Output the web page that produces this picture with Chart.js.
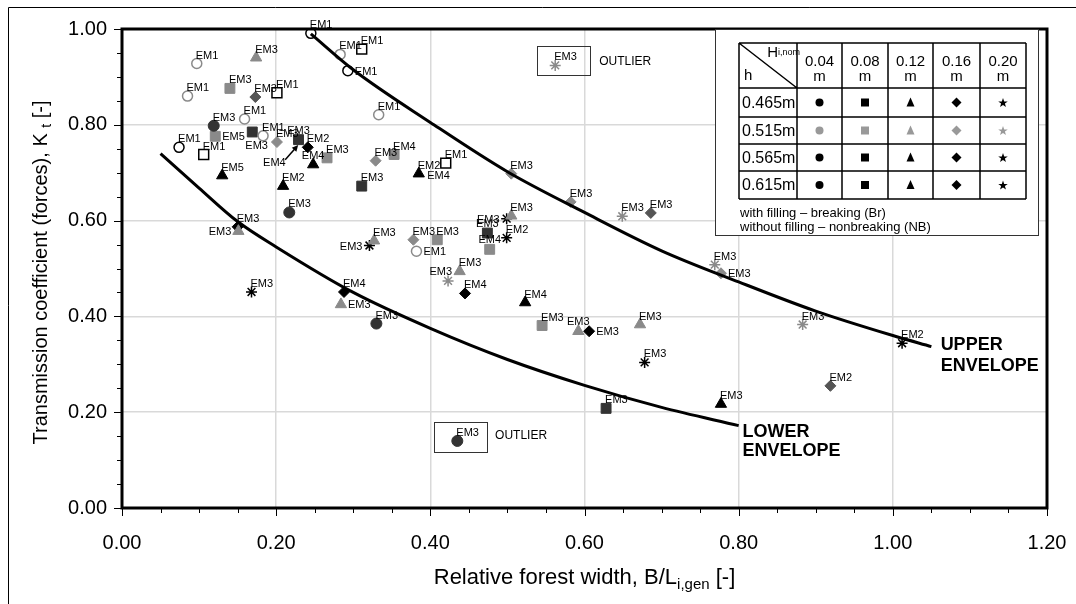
<!DOCTYPE html>
<html>
<head>
<meta charset="utf-8">
<script src="https://cdn.jsdelivr.net/npm/chart.js@4.4.1/dist/chart.umd.min.js"></script>
<style>
  html, body { margin: 0; padding: 0; background: #fff; }
  #wrap { width: 1076px; height: 604px; }
</style>
</head>
<body>
<div id="wrap"><canvas id="chartKt" width="1076" height="604"></canvas></div>
<script>
const FONT = 'Arial, "Liberation Sans", sans-serif';

// ---------- axes ----------
const xMajor = [0, 0.2, 0.4, 0.6, 0.8, 1.0, 1.2];
const xTickLabels = ['0.00', '0.20', '0.40', '0.60', '0.80', '1.00', '1.20'];
const yMajor = [0, 0.2, 0.4, 0.6, 0.8, 1.0];
const yTickLabels = ['0.00', '0.20', '0.40', '0.60', '0.80', '1.00'];

// ---------- envelopes ----------
const upperX = [0.245, 0.30, 0.40, 0.50, 0.60, 0.70, 0.80, 0.90, 1.00, 1.05];
const upperY = [0.990, 0.915, 0.805, 0.702, 0.617, 0.537, 0.472, 0.411, 0.360, 0.337];
const lowerX = [0.05, 0.10, 0.15, 0.20, 0.30, 0.40, 0.50, 0.60, 0.70, 0.80];
const lowerY = [0.740, 0.668, 0.598, 0.545, 0.450, 0.375, 0.310, 0.256, 0.210, 0.172];

// ---------- measurements (x = B/L, y = Kt) ----------
// open circles, black (NB)
const ocBlackX = [0.245, 0.293, 0.074];
const ocBlackY = [0.991, 0.913, 0.753];
const ocBlackTag = ['EM1', 'EM1', 'EM1'];
// open circles, grey (NB)
const ocGreyX = [0.283, 0.097, 0.085, 0.333, 0.159, 0.183, 0.382];
const ocGreyY = [0.947, 0.928, 0.860, 0.821, 0.812, 0.777, 0.536];
const ocGreyTag = ['EM1', 'EM1', 'EM1', 'EM1', 'EM1', 'EM1', 'EM1'];
// open squares (NB)
const osBlackX = [0.311, 0.201, 0.106, 0.420];
const osBlackY = [0.958, 0.867, 0.738, 0.720];
const osBlackTag = ['EM1', 'EM1', 'EM1', 'EM1'];
// circles, dark
const cDarkX = [0.119, 0.217, 0.330, 0.435];
const cDarkY = [0.798, 0.617, 0.385, 0.140];
const cDarkTag = ['EM3', 'EM3', 'EM3', 'EM3'];
// squares, grey
const sGreyX = [0.140, 0.121, 0.266, 0.353, 0.409, 0.477, 0.545];
const sGreyY = [0.876, 0.776, 0.731, 0.738, 0.560, 0.540, 0.381];
const sGreyTag = ['EM3', 'EM5', 'EM3', 'EM4', 'EM3', 'EM4', 'EM3'];
// squares, dark
const sDarkX = [0.169, 0.229, 0.311, 0.474, 0.628];
const sDarkY = [0.785, 0.769, 0.672, 0.574, 0.208];
const sDarkTag = ['', 'EM3', 'EM3', 'EM3', 'EM3'];
// triangles, black
const tBlackX = [0.130, 0.209, 0.248, 0.385, 0.523, 0.777];
const tBlackY = [0.694, 0.672, 0.717, 0.698, 0.429, 0.217];
const tBlackTag = ['EM5', 'EM2', 'EM4', 'EM2', 'EM4', 'EM3'];
// triangles, grey
const tGreyX = [0.174, 0.505, 0.438, 0.592, 0.672, 0.151, 0.327, 0.284];
const tGreyY = [0.940, 0.610, 0.494, 0.369, 0.383, 0.578, 0.558, 0.425];
const tGreyTag = ['EM3', 'EM3', 'EM3', 'EM3', 'EM3', 'EM3', 'EM3', 'EM3'];
// diamonds, black
const dBlackX = [0.241, 0.445, 0.606, 0.150, 0.288];
const dBlackY = [0.753, 0.448, 0.369, 0.587, 0.451];
const dBlackTag = ['EM2', 'EM4', 'EM3', 'EM3', 'EM4'];
// diamonds, dark grey
const dDarkX = [0.173, 0.686, 0.919];
const dDarkY = [0.858, 0.616, 0.255];
const dDarkTag = ['EM3', 'EM3', 'EM2'];
// diamonds, grey
const dGreyX = [0.201, 0.329, 0.505, 0.582, 0.378, 0.777];
const dGreyY = [0.764, 0.725, 0.698, 0.639, 0.560, 0.490];
const dGreyTag = ['EM3', 'EM3', 'EM3', 'EM3', 'EM3', 'EM3'];
// stars, black
const xBlackX = [0.499, 0.499, 0.321, 0.168, 0.678, 1.012];
const xBlackY = [0.604, 0.564, 0.548, 0.451, 0.304, 0.344];
const xBlackTag = ['EM3', 'EM2', 'EM3', 'EM3', 'EM3', 'EM2'];
// stars, grey
const xGreyX = [0.562, 0.649, 0.423, 0.769, 0.883];
const xGreyY = [0.924, 0.609, 0.474, 0.508, 0.383];
const xGreyTag = ['EM3', 'EM3', 'EM3', 'EM3', 'EM3'];

// loose tags (second labels, arrow label)
const extraTagX = [0.396, 0.160, 0.183];
const extraTagY = [0.694, 0.756, 0.721];
const extraTag = ['EM4', 'EM3', 'EM4'];
const arrowFrom = [0.2117, 0.727];
const arrowTo = [0.2286, 0.758];

// outliers: [x0, x1, y0, y1] and note position
const outlierBoxes = [[0.539, 0.608, 0.904, 0.964], [0.405, 0.474, 0.118, 0.180]];
const outlierTextX = [0.619, 0.484];
const outlierTextY = [0.932, 0.151];

// legend table
const legendWaves = ['0.04', '0.08', '0.12', '0.16', '0.20'];
const legendDepths = ['0.465m', '0.515m', '0.565m', '0.615m'];
const legendNotes = ['with filling \u2013 breaking (Br)', 'without filling \u2013 nonbreaking (NB)'];

const GREY = '#8a8a8a', DARK = '#333', DGREY = '#555', BLACK = '#000';

const SERIES = [
    { x: ocBlackX, y: ocBlackY, tag: ocBlackTag, side: ['ur', 'r', 'ur'], shape: 'circle', r: 5, fill: '#fff', line: BLACK, bw: 1.5 },
    { x: ocGreyX, y: ocGreyY, tag: ocGreyTag, side: ['ur', 'ur', 'ur', 'ur', 'ur', 'ur', 'r'], shape: 'circle', r: 5, fill: '#fff', line: GREY, bw: 1.5 },
    { x: osBlackX, y: osBlackY, tag: osBlackTag, side: ['ur', 'ur', 'ur', 'ur'], shape: 'rect', r: 7, fill: '#fff', line: BLACK, bw: 1.5 },
    { x: cDarkX, y: cDarkY, tag: cDarkTag, side: ['ur', 'ur', 'ur', 'ur'], shape: 'circle', r: 5.5, fill: DARK, line: DARK, bw: 1 },
    { x: sGreyX, y: sGreyY, tag: sGreyTag, side: ['ur', 'r', 'ur', 'ur', 'ur', 'a', 'ur'], shape: 'rect', r: 7, fill: GREY, line: GREY, bw: 1 },
    { x: sDarkX, y: sDarkY, tag: sDarkTag, side: ['ur', 'a', 'ur', 'a', 'ur'], shape: 'rect', r: 7, fill: DARK, line: DARK, bw: 1 },
    { x: tBlackX, y: tBlackY, tag: tBlackTag, side: ['ur', 'ur', 'a', 'ur', 'ur', 'ur'], shape: 'triangle', r: 6.5, fill: BLACK, line: BLACK, bw: 1 },
    { x: tGreyX, y: tGreyY, tag: tGreyTag, side: ['ur', 'ur', 'ur', 'a', 'ur', 'l', 'ur', 'r'], shape: 'triangle', r: 6.5, fill: GREY, line: GREY, bw: 1 },
    { x: dBlackX, y: dBlackY, tag: dBlackTag, side: ['ur', 'ur', 'r', 'ur', 'ur'], shape: 'rectRot', r: 5.5, fill: BLACK, line: BLACK, bw: 1 },
    { x: dDarkX, y: dDarkY, tag: dDarkTag, side: ['ur', 'ur', 'ur'], shape: 'rectRot', r: 5.5, fill: DGREY, line: DGREY, bw: 1 },
    { x: dGreyX, y: dGreyY, tag: dGreyTag, side: ['ur', 'ur', 'ur', 'ur', 'ur', 'r'], shape: 'rectRot', r: 5.5, fill: GREY, line: GREY, bw: 1 },
    { x: xBlackX, y: xBlackY, tag: xBlackTag, side: ['l', 'ur', 'l', 'ur', 'ur', 'ur'], shape: 'star', r: 5.5, fill: BLACK, line: BLACK, bw: 1.5 },
    { x: xGreyX, y: xGreyY, tag: xGreyTag, side: ['ur', 'ur', 'ul', 'ur', 'ur'], shape: 'star', r: 5.5, fill: GREY, line: GREY, bw: 1.5 },
];

const SIDE = {
    ur: { align: 'left', dx: -1, dy: -8 },
    r: { align: 'left', dx: 7, dy: 1 },
    l: { align: 'right', dx: -7, dy: 1 },
    a: { align: 'center', dx: 0, dy: -9 },
    ul: { align: 'right', dx: 4, dy: -9 },
};

function pairs(xs, ys) { return xs.map((v, i) => ({ x: v, y: ys[i] })); }
function labelFor(v, majors, labels) {
    const i = majors.findIndex(m => Math.abs(m - v) < 1e-6);
    return i >= 0 ? labels[i] : '';
}
function noPad(s) { s.paddingLeft = 0; s.paddingRight = 0; s.paddingTop = 0; s.paddingBottom = 0; }

// text with subscript parts: [[text, isSub], ...]
function richText(ctx, parts, cx, cy, size) {
    const big = size + 'px ' + FONT, small = Math.round(size * 0.68) + 'px ' + FONT;
    let w = 0;
    parts.forEach(p => { ctx.font = p[1] ? small : big; w += ctx.measureText(p[0]).width; });
    let x = cx - w / 2;
    ctx.textAlign = 'left'; ctx.textBaseline = 'middle';
    parts.forEach(p => {
        ctx.font = p[1] ? small : big;
        ctx.fillText(p[0], x, cy + (p[1] ? size * 0.3 : 0));
        x += ctx.measureText(p[0]).width;
    });
}

function symbol(ctx, kind, x, y, color) {
    ctx.fillStyle = color;
    ctx.beginPath();
    if (kind === 0) { ctx.arc(x, y, 4, 0, Math.PI * 2); }
    else if (kind === 1) { ctx.rect(x - 4, y - 4, 8, 8); }
    else if (kind === 2) { ctx.moveTo(x, y - 5); ctx.lineTo(x + 4, y + 4); ctx.lineTo(x - 4, y + 4); ctx.closePath(); }
    else if (kind === 3) { ctx.moveTo(x, y - 5); ctx.lineTo(x + 5, y); ctx.lineTo(x, y + 5); ctx.lineTo(x - 5, y); ctx.closePath(); }
    else {
        for (let k = 0; k < 10; k++) {
            const a = -Math.PI / 2 + k * Math.PI / 5, rr = k % 2 ? 2 : 5;
            const px = x + Math.cos(a) * rr, py = y + 0.5 + Math.sin(a) * rr;
            k ? ctx.lineTo(px, py) : ctx.moveTo(px, py);
        }
        ctx.closePath();
    }
    ctx.fill();
}

// ---------- overlay plugin ----------
const overlay = {
    id: 'overlay',
    afterDatasetsDraw(chart) {
        const ctx = chart.ctx, xs = chart.scales.x, ys = chart.scales.y;
        ctx.save();
        ctx.fillStyle = '#000';
        ctx.font = '11px ' + FONT;
        ctx.textBaseline = 'middle';
        SERIES.forEach((s, i) => {
            chart.getDatasetMeta(i + 2).data.forEach((pt, j) => {
                if (!s.tag[j]) return;
                const o = SIDE[s.side[j]] || SIDE.ur;
                ctx.textAlign = o.align;
                ctx.fillText(s.tag[j], pt.x + o.dx, pt.y + o.dy);
            });
        });
        ctx.textAlign = 'left';
        extraTag.forEach((t, i) => ctx.fillText(t, xs.getPixelForValue(extraTagX[i]), ys.getPixelForValue(extraTagY[i])));

        // arrow
        const ax0 = xs.getPixelForValue(arrowFrom[0]), ay0 = ys.getPixelForValue(arrowFrom[1]);
        const ax1 = xs.getPixelForValue(arrowTo[0]), ay1 = ys.getPixelForValue(arrowTo[1]);
        const ang = Math.atan2(ay1 - ay0, ax1 - ax0);
        ctx.strokeStyle = '#000'; ctx.lineWidth = 1.5;
        ctx.beginPath(); ctx.moveTo(ax0, ay0); ctx.lineTo(ax1 - Math.cos(ang) * 4, ay1 - Math.sin(ang) * 4); ctx.stroke();
        ctx.beginPath();
        ctx.moveTo(ax1, ay1);
        ctx.lineTo(ax1 - Math.cos(ang - 0.45) * 7, ay1 - Math.sin(ang - 0.45) * 7);
        ctx.lineTo(ax1 - Math.cos(ang + 0.45) * 7, ay1 - Math.sin(ang + 0.45) * 7);
        ctx.closePath(); ctx.fill();

        // outliers
        ctx.lineWidth = 1; ctx.strokeStyle = '#333';
        outlierBoxes.forEach((b, i) => {
            const l = xs.getPixelForValue(b[0]), r = xs.getPixelForValue(b[1]);
            const t = ys.getPixelForValue(b[3]), btm = ys.getPixelForValue(b[2]);
            ctx.strokeRect(Math.round(l) + 0.5, Math.round(t) + 0.5, Math.round(r - l), Math.round(btm - t));
            ctx.font = '12px ' + FONT;
            ctx.fillText('OUTLIER', xs.getPixelForValue(outlierTextX[i]), ys.getPixelForValue(outlierTextY[i]));
        });

        // envelope names
        ctx.font = 'bold 18px ' + FONT;
        ctx.fillText('UPPER', xs.getPixelForValue(1.062), ys.getPixelForValue(0.340));
        ctx.fillText('ENVELOPE', xs.getPixelForValue(1.062), ys.getPixelForValue(0.296));
        ctx.fillText('LOWER', xs.getPixelForValue(0.805), ys.getPixelForValue(0.158));
        ctx.fillText('ENVELOPE', xs.getPixelForValue(0.805), ys.getPixelForValue(0.119));
        ctx.restore();
    },
    afterDraw(chart) {
        const ctx = chart.ctx, a = chart.chartArea, xs = chart.scales.x, ys = chart.scales.y;
        ctx.save();
        // tick marks
        ctx.strokeStyle = '#000'; ctx.lineWidth = 1;
        ctx.beginPath();
        for (let i = 0; i <= 24; i++) {
            const px = Math.round(xs.getPixelForValue(i * 0.05)) + 0.5;
            ctx.moveTo(px, a.bottom); ctx.lineTo(px, a.bottom + (i % 4 === 0 ? 8 : 5));
        }
        for (let i = 0; i <= 20; i++) {
            const py = Math.round(ys.getPixelForValue(i * 0.05)) + 0.5;
            ctx.moveTo(a.left, py); ctx.lineTo(a.left - (i % 4 === 0 ? 8 : 5), py);
        }
        ctx.stroke();
        // plot frame
        ctx.lineWidth = 3;
        ctx.strokeRect(a.left, a.top, a.right - a.left, a.bottom - a.top);
        // figure frame (top + left visible)
        ctx.lineWidth = 1;
        ctx.beginPath(); ctx.moveTo(8.5, 604); ctx.lineTo(8.5, 7.5); ctx.lineTo(1076, 7.5); ctx.stroke();

        // axis titles
        ctx.fillStyle = '#000';
        richText(ctx, [['Relative forest width, B/L', false], ['i,gen', true], [' [-]', false]], (a.left + a.right) / 2, 578, 22);
        ctx.save();
        ctx.translate(41, (a.top + a.bottom) / 2 + 4);
        ctx.rotate(-Math.PI / 2);
        richText(ctx, [['Transmission coefficient (forces), K ', false], ['t', true], [' [-]', false]], 0, 0, 20);
        ctx.restore();

        // ---------- legend table ----------
        const bx = 715, by = a.top, bw = 323, bh = 235 - a.top;
        ctx.fillStyle = '#fff'; ctx.fillRect(bx, by, bw, bh);
        ctx.strokeStyle = '#333'; ctx.lineWidth = 1;
        ctx.strokeRect(bx + 0.5, by + 0.5, bw, bh);
        const cols = [739, 797, 842, 888, 933, 980, 1026];
        const rows = [43, 88, 117, 144, 171, 199];
        ctx.strokeStyle = '#000'; ctx.lineWidth = 1.5;
        ctx.beginPath();
        cols.forEach(c => { ctx.moveTo(c, rows[0]); ctx.lineTo(c, rows[rows.length - 1]); });
        rows.forEach(r => { ctx.moveTo(cols[0], r); ctx.lineTo(cols[cols.length - 1], r); });
        ctx.moveTo(cols[0], rows[0]); ctx.lineTo(cols[1], rows[1]);
        ctx.stroke();
        ctx.fillStyle = '#000';
        ctx.textBaseline = 'alphabetic';
        ctx.textAlign = 'right';
        ctx.font = '15px ' + FONT; ctx.fillText('H', 778, 57);
        ctx.font = '9px ' + FONT; ctx.textAlign = 'left'; ctx.fillText('i,nom', 778, 55);
        ctx.font = '15px ' + FONT; ctx.fillText('h', 744, 80);
        ctx.textAlign = 'center';
        legendWaves.forEach((w, i) => {
            const cx = (cols[i + 1] + cols[i + 2]) / 2;
            ctx.font = '15px ' + FONT;
            ctx.fillText(w, cx, 66);
            ctx.fillText('m', cx, 81);
        });
        legendDepths.forEach((d, r) => {
            const cy = (rows[r + 1] + rows[r + 2]) / 2;
            ctx.font = '16px ' + FONT; ctx.textAlign = 'left'; ctx.textBaseline = 'middle';
            ctx.fillText(d, cols[0] + 3, cy + 1);
            for (let k = 0; k < 5; k++) {
                symbol(ctx, k, (cols[k + 1] + cols[k + 2]) / 2, cy, r === 1 ? '#999' : '#000');
            }
            ctx.fillStyle = '#000';
        });
        ctx.font = '13px ' + FONT; ctx.textAlign = 'left'; ctx.textBaseline = 'middle';
        legendNotes.forEach((t, i) => ctx.fillText(t, 740, 213 + i * 14));
        ctx.restore();
    }
};

// ---------- chart ----------
const datasets = [
    { data: pairs(upperX, upperY), showLine: true, borderColor: '#000', borderWidth: 3, pointRadius: 0, cubicInterpolationMode: 'monotone', fill: false },
    { data: pairs(lowerX, lowerY), showLine: true, borderColor: '#000', borderWidth: 3, pointRadius: 0, cubicInterpolationMode: 'monotone', fill: false },
].concat(SERIES.map(s => ({
    data: pairs(s.x, s.y),
    showLine: false,
    pointStyle: s.shape,
    pointRadius: s.r, pointHoverRadius: s.r,
    pointBackgroundColor: s.fill, pointBorderColor: s.line, pointBorderWidth: s.bw,
})));

const tickFont = { family: FONT, size: 20 };
new Chart(document.getElementById('chartKt'), {
    type: 'scatter',
    data: { datasets },
    options: {
        responsive: false, animation: false, events: [],
        layout: { padding: { top: 29, right: 29, left: 0, bottom: 0 } },
        plugins: { legend: { display: false }, tooltip: { enabled: false } },
        scales: {
            x: {
                min: 0, max: 1.2,
                afterFit: s => { s.height = 96; noPad(s); },
                ticks: { stepSize: 0.05, autoSkip: false, maxRotation: 0, padding: 23, color: '#000', font: tickFont,
                    callback: v => labelFor(v, xMajor, xTickLabels) },
                grid: { drawTicks: false, lineWidth: 1.5, color: c => labelFor(c.tick.value, xMajor, xTickLabels) ? '#d9d9d9' : 'transparent' },
                border: { display: false },
            },
            y: {
                min: 0, max: 1.0,
                afterFit: s => { s.width = 122; noPad(s); },
                ticks: { stepSize: 0.05, autoSkip: false, padding: 15, color: '#000', font: tickFont,
                    callback: v => labelFor(v, yMajor, yTickLabels) },
                grid: { drawTicks: false, lineWidth: 1.5, color: c => labelFor(c.tick.value, yMajor, yTickLabels) ? '#d9d9d9' : 'transparent' },
                border: { display: false },
            },
        },
    },
    plugins: [overlay],
});
</script>
</body>
</html>
